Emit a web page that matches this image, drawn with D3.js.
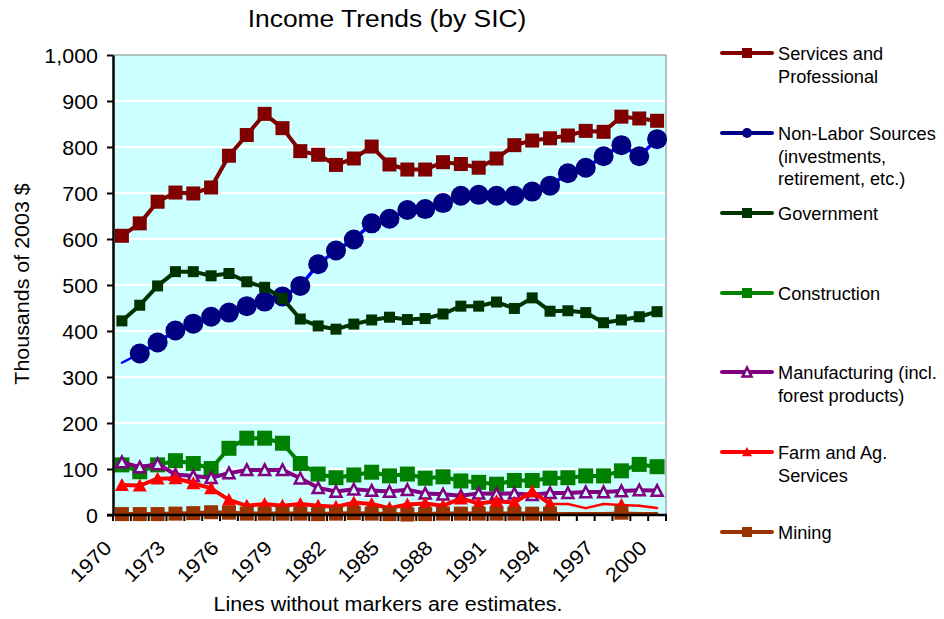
<!DOCTYPE html>
<html>
<head>
<meta charset="utf-8">
<script src="https://cdn.jsdelivr.net/npm/d3@7"></script>
<style>
  html, body { margin: 0; padding: 0; background: #ffffff; }
  svg { display: block; font-family: "Liberation Sans", Arial, sans-serif; }
</style>
</head>
<body>
<svg id="chart" width="944" height="619"></svg>
<script>
// ---- data (thousands of 2003 dollars) ----
const years = d3.range(1970, 2001);
const tickYears = [1970, 1973, 1976, 1979, 1982, 1985, 1988, 1991, 1994, 1997, 2000];
const yTicks = [0, 100, 200, 300, 400, 500, 600, 700, 800, 900, 1000];

const services     = [607, 634, 681, 701, 699, 712, 781, 826, 872, 841, 791, 783, 761, 775, 801, 762,
                      751, 751, 767, 763, 755, 775, 804, 814, 819, 825, 835, 833, 866, 862, 857];
const nonLabor     = [331, 351, 375, 401, 416, 431, 440, 454, 464, 475, 498, 545, 575, 599, 634, 644,
                      663, 665, 678, 694, 696, 694, 694, 703, 716, 743, 755, 780, 804, 780, 817];
const government   = [422, 456, 498, 529, 529, 520, 525, 507, 495, 471, 426, 411, 404, 415, 424, 430,
                      425, 427, 437, 454, 454, 463, 449, 472, 443, 444, 440, 418, 424, 431, 442];
const construction = [109, 94, 109, 118, 112, 101, 145, 167, 167, 156, 112, 89, 81, 87, 93, 85,
                      89, 80, 83, 74, 71, 67, 75, 75, 80, 81, 85, 85, 96, 110, 105];
const manufacturing= [115, 104, 111, 88, 85, 81, 91, 98, 98, 98, 80, 59, 51, 56, 53, 51,
                      55, 47, 45, 42, 47, 46, 47, 44, 48, 48, 50, 50, 52, 54, 53];
const farm         = [65, 64, 79, 80, 69, 58, 33, 20, 24, 20, 24, 20, 18, 27, 24, 15,
                      23, 25, 20, 36, 25, 30, 27, 51, 24, 24, 15, 24, 22, 20, 15];
const mining       = [2, 2, 2, 3, 4, 6, 5, 3, 3, 3, 3, 2, 3, 4, 3, 2,
                      1, 2, 3, 3, 3, 3, 3, 3, 3, 4, 4, 4, 5, 4, 4];

// years shown as estimates (no marker)
const nonLaborEstimated = [1970];
const farmEstimated     = [1995, 1996, 1997, 1999, 2000];
const miningEstimated   = [1995, 1996, 1997, 1999, 2000];

const seriesNames = [
  ["Services and", "Professional"],
  ["Non-Labor Sources", "(investments,", "retirement, etc.)"],
  ["Government"],
  ["Construction"],
  ["Manufacturing (incl.", "forest products)"],
  ["Farm and Ag.", "Services"],
  ["Mining"]
];

// ---- series styling ----
const series = [
  { values: services,      est: [], line: "#800000", mark: "#800000", shape: "square",   size: 14, lw: 4 },
  { values: nonLabor,      est: nonLaborEstimated, line: "#0000FF", legendLine: "#000080", mark: "#000080", shape: "circle", size: 20, lw: 3.5 },
  { values: government,    est: [], line: "#003300", mark: "#003300", shape: "square",   size: 11, lw: 4 },
  { values: construction,  est: [], line: "#008000", mark: "#008000", shape: "square",   size: 15, lw: 4 },
  { values: manufacturing, est: [], line: "#800080", mark: "#800080", shape: "triOpen",  size: 13, lw: 4 },
  { values: farm,          est: farmEstimated,   line: "#FF0000", mark: "#FF0000", shape: "triangle", size: 14, lw: 4 },
  { values: mining,        est: miningEstimated, line: "#993300", mark: "#993300", shape: "square",   size: 14, lw: 4 }
];

const FONT = '"Liberation Sans", Arial, sans-serif';
const SX = 1.1; // horizontal text widening

const svg = d3.select("#chart");
const plot = { left: 113, right: 666, top: 55, bottom: 515 };

const x = d3.scaleBand().domain(years).range([plot.left, plot.right]).padding(0);
const y = d3.scaleLinear().domain([0, 1000]).range([plot.bottom, plot.top]);
const cx = yr => x(yr) + x.bandwidth() / 2;

function label(g, px, py, str, size, anchor, rot, sx) {
  return g.append("text")
    .attr("transform", `translate(${px},${py}) rotate(${rot || 0}) scale(${sx || SX},1)`)
    .attr("font-size", size)
    .attr("text-anchor", anchor || "start")
    .attr("fill", "#000")
    .text(str);
}

// plot background
svg.append("rect")
  .attr("x", plot.left).attr("y", plot.top)
  .attr("width", plot.right - plot.left).attr("height", plot.bottom - plot.top)
  .attr("fill", "#CCFFFF");

// gridlines
svg.append("g").selectAll("line")
  .data(yTicks.filter(v => v > 0 && v < 1000))
  .join("line")
  .attr("x1", plot.left).attr("x2", plot.right)
  .attr("y1", d => y(d)).attr("y2", d => y(d))
  .attr("stroke", "#ffffff").attr("stroke-width", 2);

// top / right border
svg.append("path")
  .attr("d", `M${plot.left},${plot.top}H${plot.right}V${plot.bottom}`)
  .attr("fill", "none").attr("stroke", "#808080").attr("stroke-width", 1);

// ---- marker drawing ----
function marker(g, shape, size, color, px, py) {
  const h = size / 2;
  if (shape === "square") {
    g.append("rect").attr("x", px - h).attr("y", py - h).attr("width", size).attr("height", size)
      .attr("fill", color);
  } else if (shape === "circle") {
    g.append("circle").attr("cx", px).attr("cy", py).attr("r", h).attr("fill", color);
  } else if (shape === "triangle") {
    g.append("path").attr("d", `M${px},${py - h}L${px + h},${py + h * 0.85}L${px - h},${py + h * 0.85}Z`)
      .attr("fill", color);
  } else if (shape === "triOpen") {
    g.append("path").attr("d", `M${px},${py - h + 1}L${px + h - 1},${py + h * 0.8}L${px - h + 1},${py + h * 0.8}Z`)
      .attr("fill", "#CCFFFF").attr("stroke", color).attr("stroke-width", 2.5).attr("stroke-linejoin", "miter");
  }
}

// ---- series ----
const lineGen = d3.line().x(d => cx(d.year)).y(d => y(d.value));

series.forEach(s => {
  const g = svg.append("g");
  const pts = years.map((yr, i) => ({ year: yr, value: s.values[i], est: s.est.includes(yr) }));
  // segments: thick between measured points, thin where either end is an estimate
  for (let i = 0; i < pts.length - 1; i++) {
    const a = pts[i], b = pts[i + 1];
    const thin = a.est || b.est;
    g.append("path")
      .attr("d", lineGen([a, b]))
      .attr("fill", "none")
      .attr("stroke", s.line)
      .attr("stroke-width", thin ? 2.5 : s.lw)
      .attr("stroke-linecap", "round")
      .attr("stroke-linejoin", "round");
  }
  pts.filter(p => !p.est).forEach(p => marker(g, s.shape, s.size, s.mark, cx(p.year), y(p.value)));
});

// ---- axes ----
const yAxis = svg.append("g")
  .attr("transform", `translate(${plot.left},0)`)
  .call(d3.axisLeft(y).tickValues(yTicks).tickFormat(d3.format(",")).tickSize(6).tickSizeOuter(0));
yAxis.select(".domain").attr("stroke", "#000").attr("stroke-width", 2.5);
yAxis.selectAll(".tick line").attr("stroke", "#000").attr("stroke-width", 2);
yAxis.selectAll(".tick text")
  .attr("x", 0).attr("dy", "0.36em")
  .attr("transform", `translate(-15,0) scale(${SX},1)`)
  .attr("font-family", FONT).attr("font-size", 19.5).attr("fill", "#000");

// category axis: ticks on band boundaries
const bounds = years.map(yr => x(yr)).concat([plot.right]);
svg.append("g").selectAll("line")
  .data(bounds).join("line")
  .attr("x1", d => d).attr("x2", d => d)
  .attr("y1", plot.bottom).attr("y2", plot.bottom + 6)
  .attr("stroke", "#000").attr("stroke-width", 2);
svg.append("line")
  .attr("x1", plot.left - 6).attr("x2", plot.right + 1)
  .attr("y1", plot.bottom).attr("y2", plot.bottom)
  .attr("stroke", "#000").attr("stroke-width", 2.5);

const xl = svg.append("g");
tickYears.forEach(yr => label(xl, cx(yr) - 9, plot.bottom + 34, String(yr), 20, "end", -45));

// ---- titles ----
label(svg, 387, 27, "Income Trends (by SIC)", 24, "middle");
label(svg, 29, 284, "Thousands of 2003 $", 19.5, "middle", -90);
label(svg, 388, 611, "Lines without markers are estimates.", 19.5, "middle");

// ---- legend ----
const legendY = [53, 133, 213, 293, 372, 452, 532];
const lg = svg.append("g");
series.forEach((s, i) => {
  const ly = legendY[i];
  lg.append("line")
    .attr("x1", 722).attr("x2", 772).attr("y1", ly).attr("y2", ly)
    .attr("stroke", s.legendLine || s.line).attr("stroke-width", 4).attr("stroke-linecap", "round");
  marker(lg, s.shape, s.shape === "triOpen" ? 11 : 10, s.legendLine || s.mark, 747, ly);
  seriesNames[i].forEach((t, j) => label(lg, 778, ly + 7 + j * 22.7, t, 17.5, "start", 0, 1.04));
});
</script>
</body>
</html>
